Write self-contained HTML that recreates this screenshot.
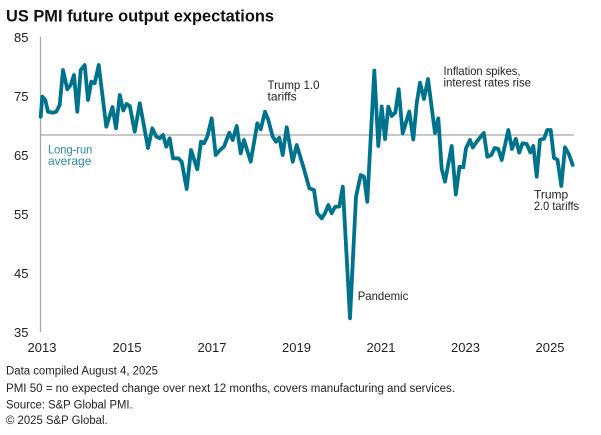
<!DOCTYPE html>
<html>
<head>
<meta charset="utf-8">
<style>
html,body{margin:0;padding:0;background:#fff;}
svg{display:block;}
text{font-family:"Liberation Sans",Arial,sans-serif;}
</style>
</head>
<body>
<svg width="601" height="435" viewBox="0 0 601 435" xmlns="http://www.w3.org/2000/svg">
<rect width="601" height="435" fill="#fff"/>
<text x="6" y="21.5" font-size="16.5" font-weight="bold" fill="#111" textLength="268" lengthAdjust="spacingAndGlyphs">US PMI future output expectations</text>

<!-- axes -->
<line x1="40.5" y1="37" x2="40.5" y2="332" stroke="#a6a6a6" stroke-width="1.3"/>
<line x1="40.5" y1="135" x2="574" y2="135" stroke="#a6a6a6" stroke-width="1.3"/>

<!-- y labels -->
<g font-size="13" fill="#222" text-anchor="end">
<text x="28.5" y="42">85</text>
<text x="28.5" y="101">75</text>
<text x="28.5" y="160">65</text>
<text x="28.5" y="219">55</text>
<text x="28.5" y="278">45</text>
<text x="28.5" y="337">35</text>
</g>
<!-- x labels -->
<g font-size="13" fill="#222" text-anchor="middle">
<text x="42" y="352">2013</text>
<text x="127" y="352">2015</text>
<text x="212" y="352">2017</text>
<text x="296.5" y="352">2019</text>
<text x="381" y="352">2021</text>
<text x="465.5" y="352">2023</text>
<text x="550" y="352">2025</text>
</g>

<!-- series -->
<polyline fill="none" stroke="#00738c" stroke-width="3.8" stroke-linejoin="round" stroke-linecap="round" points="
40.7,116.7 42.3,96.7 45.3,100 48,111.7 53,112.7 56.3,111.7 59.7,105 63,70 67.3,89.3 70.7,85 74,75 77.3,111.7 80.7,70 84.7,65 88,100 91.3,81.7 94.7,83.3 98.7,65 106.3,126.7 112.5,107 116,128.3 119.8,95 123.3,110.5 126.5,104 129.8,106 134.7,131.7 139.8,103.3 148,148 152.3,128.3 156.3,136.7 159.7,138.3 163,135 166.3,146.7 169.7,138.3 173,158.3 178.3,158.3 181.7,161.7 186.7,189 191,150 197.3,169.3 201,141.7 204,143.3 207.3,136.7 211.7,118.3 215.7,155 220,150 224,146.7 229.3,132.7 232.7,140 236.7,126 240.7,153.3 244,140 250.7,161.7 257.3,123.3 260.7,129.3 265,111.7 268.3,120 272.7,136.7 276,141.7 279.3,137.7 282.7,155 286.7,127.3 292.7,161.7 296.7,145 303.3,166.7 309.3,188.3 314,190 317.3,213.3 321.7,218.3 325,213.3 328.3,205 331.7,213.3 335,207 339.3,206.5 342.8,186.7 350,318.3 356,196.7 360.7,175 364,176.7 367.3,201.7 374.3,70.5 378.3,146 381.7,106.5 385,139 388.3,106.7 391.7,116 395.3,112.5 398.7,89.3 402.7,133.3 409.3,111.5 413.3,139.5 416.7,103.3 420,82.7 424,99 428,79 435,133 438.3,118.3 441.7,169 445,181.7 451.7,146 455.8,194.5 459.5,166.7 463.3,167.3 466,148.3 470,140 472.8,147.5 476.7,141.7 483.8,133 487.3,156.7 491.3,155 494.7,148 498.3,149 501.7,160 508.3,130 512,149 515.8,138.8 519.2,152.7 522.5,143.3 526.7,144 530.3,152.5 533.3,146 536.7,176.7 540,139.7 544,138.8 547.3,130 550.7,130 554,158 557.5,159.7 561.3,186 565,147.3 568.8,154 572.7,165"/>

<!-- annotations -->
<g font-size="12" fill="#222">
<text x="267.5" y="89" textLength="52" lengthAdjust="spacingAndGlyphs">Trump 1.0</text>
<text x="267.5" y="100.7">tariffs</text>
<text x="443.5" y="75" textLength="77" lengthAdjust="spacingAndGlyphs">Inflation  spikes,</text>
<text x="443.5" y="86.7" textLength="87.5" lengthAdjust="spacingAndGlyphs">interest rates rise</text>
<text x="357.7" y="300" textLength="50.6" lengthAdjust="spacingAndGlyphs">Pandemic</text>
<text x="534" y="198.3">Trump</text>
<text x="534" y="210" textLength="45" lengthAdjust="spacingAndGlyphs">2.0 tariffs</text>
</g>
<g font-size="12" fill="#2a8aa3">
<text x="48" y="153.5" textLength="44.3" lengthAdjust="spacingAndGlyphs">Long-run</text>
<text x="48" y="165">average</text>
</g>

<!-- footer -->
<g font-size="11.5" fill="#222">
<text x="6" y="374.5" textLength="152" lengthAdjust="spacingAndGlyphs">Data compiled August 4, 2025</text>
<text x="6" y="392" textLength="449" lengthAdjust="spacingAndGlyphs">PMI 50 =  no expected change over next 12 months, covers manufacturing and services.</text>
<text x="6" y="408.5" textLength="126.7" lengthAdjust="spacingAndGlyphs">Source: S&amp;P Global PMI.</text>
<text x="6" y="424" textLength="101.7" lengthAdjust="spacingAndGlyphs">© 2025 S&amp;P Global.</text>
</g>
</svg>
</body>
</html>
